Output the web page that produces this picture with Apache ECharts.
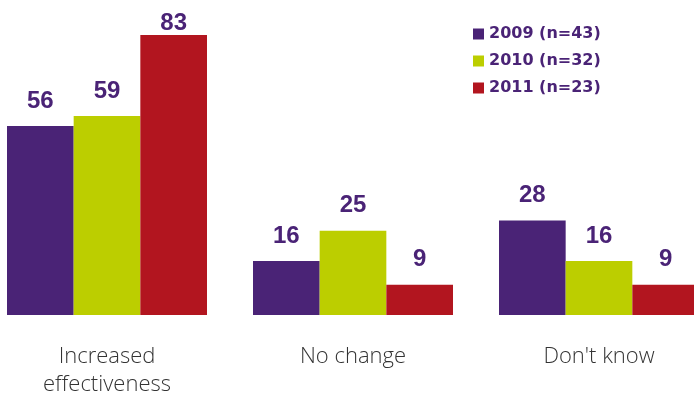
<!DOCTYPE html>
<html>
<head>
<meta charset="utf-8">
<script src="https://cdn.jsdelivr.net/npm/echarts@6/dist/echarts.min.js"></script>
<style>
  html, body { margin: 0; padding: 0; background: #fff; overflow: hidden; }
  #chart { width: 740px; height: 399px; margin-left: -16px; }
</style>
</head>
<body>
<div id="chart"></div>
<script>
// Survey responses by year (%)
const categories = ['Increased\neffectiveness', 'No change', "Don't know"];
const seriesNames = ['2009 (n=43)', '2010 (n=32)', '2011 (n=23)'];
const values2009 = [56, 16, 28];
const values2010 = [59, 25, 16];
const values2011 = [83, 9, 9];

const colors = ['#4A2376', '#BCCE00', '#B2151F'];
const labelColor = '#4A2376';
const topValue = Math.max(...values2009, ...values2010, ...values2011);

const chart = echarts.init(document.getElementById('chart'));

// the tallest bar's label sits tight against the bar so it stays on the page
const toData = (arr) => arr.map(v => v === topValue
  ? { value: v, label: { distance: 0 } }
  : v);

const makeSeries = (name, data, color) => ({
  name: name,
  type: 'bar',
  data: toData(data),
  barGap: '0%',
  barCategoryGap: '18.7%',
  itemStyle: { color: color },
  label: {
    show: true,
    position: 'top',
    distance: 13,
    color: labelColor,
    fontFamily: 'Liberation Sans, Arial, sans-serif',
    fontWeight: 'bold',
    fontSize: 24
  }
});

chart.setOption({
  animation: false,
  backgroundColor: '#ffffff',
  grid: { left: 0, width: 738, top: 35, bottom: 84, containLabel: false },
  legend: {
    orient: 'vertical',
    left: 484,
    top: 21,
    itemWidth: 11,
    itemHeight: 11,
    itemGap: 11,
    icon: 'rect',
    textStyle: {
      color: labelColor,
      fontFamily: 'DejaVu Sans, sans-serif',
      fontWeight: 'bold',
      fontSize: 16
    },
    data: seriesNames
  },
  xAxis: {
    type: 'category',
    data: categories,
    axisLine: { show: false },
    axisTick: { show: false },
    axisLabel: {
      margin: 28,
      color: '#333333',
      fontFamily: 'Open Sans, sans-serif',
      fontWeight: 300,
      fontSize: 22,
      lineHeight: 28
    }
  },
  yAxis: {
    type: 'value',
    min: 0,
    max: topValue,
    show: false,
    splitLine: { show: false }
  },
  series: [
    makeSeries(seriesNames[0], values2009, colors[0]),
    makeSeries(seriesNames[1], values2010, colors[1]),
    makeSeries(seriesNames[2], values2011, colors[2])
  ]
});
</script>
</body>
</html>
